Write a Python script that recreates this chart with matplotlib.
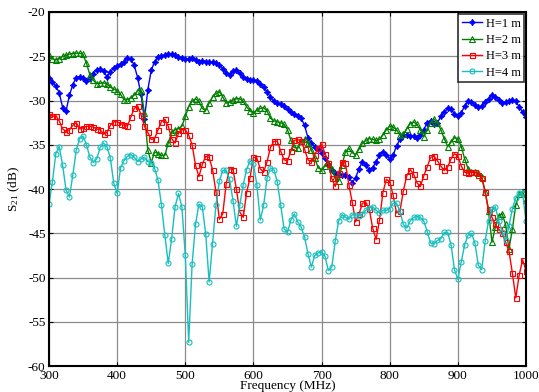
import numpy as np
import matplotlib
matplotlib.use("Agg")
import matplotlib.pyplot as plt

plt.rcParams['font.family'] = ['Liberation Serif', 'DejaVu Serif']
plt.rcParams['mathtext.fontset'] = 'custom'
plt.rcParams['mathtext.rm'] = 'Liberation Serif'
plt.rcParams['mathtext.it'] = 'Liberation Serif:italic'
plt.rcParams['axes.unicode_minus'] = False

# Frequency sweep, 300-1000 MHz in 5 MHz steps
freq_mhz = np.arange(300, 1001, 5)

s21_h1 = [
    -27.4, -27.9, -28.4, -29.1, -30.8, -31.2, -29.4, -28.2, -27.4, -27.3,
    -27.5, -27.8, -27.5, -27.0, -26.5, -26.4, -26.7, -27.3, -26.8, -26.3,
    -26.1, -25.9, -25.6, -25.2, -25.3, -26.0, -27.4, -29.3, -32.1, -28.8,
    -26.6, -25.6, -25.1, -25.0, -24.9, -24.7, -24.7, -24.9, -25.05, -25.2,
    -25.3, -25.3, -25.2, -25.4, -25.6, -25.5, -25.6, -25.6, -25.7, -25.8,
    -26.0, -26.4, -26.9, -27.1, -26.7, -26.6, -26.9, -27.3, -27.6, -27.7,
    -27.7, -27.8, -28.1, -28.5, -29.0, -29.6, -30.1, -30.3, -30.4, -30.6,
    -31.0, -31.3, -31.5, -31.7, -32.0, -32.8, -34.2, -34.8, -35.2, -35.5,
    -35.9, -36.5, -37.2, -37.8, -38.2, -38.4, -38.4, -38.4, -38.6, -39.3,
    -38.7, -37.7, -36.9, -37.3, -37.8, -37.6, -36.9, -36.2, -35.8, -36.1,
    -36.6, -36.2, -35.1, -34.4, -33.9, -33.9, -34.0, -34.0, -34.2, -33.9,
    -33.3, -32.5, -32.3, -32.6, -32.5, -31.8, -31.3, -30.9, -31.0, -31.5,
    -31.8, -31.4, -30.6, -30.1, -30.2, -30.5, -30.7, -30.6, -30.2, -29.8,
    -29.4, -29.6, -29.9, -30.3, -30.2, -30.1, -29.9, -30.1, -30.7, -31.3,
    -31.9,
]

s21_h2 = [
    -24.9, -25.3, -25.4, -25.3, -25.0, -24.9, -24.75, -24.7, -24.65, -24.65,
    -24.8, -25.8, -27.1, -27.7, -28.1, -28.05, -28.0, -28.1, -28.5, -28.7,
    -28.9, -29.3, -29.9, -29.9, -29.7, -29.4, -28.9, -28.8, -31.4, -35.6,
    -37.0, -35.8, -36.0, -36.2, -36.2, -34.8, -33.6, -33.3, -33.2, -32.9,
    -31.8, -30.7, -30.1, -29.8, -30.1, -30.9, -31.1, -30.3, -29.6, -29.2,
    -29.0, -29.6, -30.3, -30.2, -29.95, -29.8, -29.8, -30.1, -30.7, -31.2,
    -31.4, -31.1, -30.9, -30.8, -31.2, -32.0, -32.3, -32.4, -32.5, -32.7,
    -33.3, -34.5, -35.3, -35.4, -34.6, -34.4, -34.8, -35.6, -36.5, -37.6,
    -37.8, -37.4, -37.0, -37.7, -38.8, -39.1, -37.3, -35.8, -35.4, -35.9,
    -36.1, -35.5, -34.8, -34.5, -34.3, -34.4, -34.5, -34.4, -33.9, -33.3,
    -32.9, -33.0, -33.3, -33.9, -33.8, -33.2, -32.6, -32.4, -32.7, -33.3,
    -34.1, -33.3, -32.5, -32.1, -32.5, -33.3, -34.3, -35.2, -34.7, -34.2,
    -34.3, -35.2, -36.6, -37.7, -38.1, -38.1, -38.2, -38.6, -40.3, -42.5,
    -46.0, -44.3, -43.0, -42.8, -44.0, -46.8, -44.5, -41.8, -40.6, -40.3,
    -41.2,
]

s21_h3 = [
    -31.5, -31.8, -31.7, -32.3, -33.2, -33.5, -33.3, -32.8, -32.5, -33.2,
    -33.1, -32.9, -32.9, -33.0, -33.2, -33.3, -33.8, -33.6, -32.8, -32.4,
    -32.4, -32.6, -32.8, -32.9, -31.9, -30.9, -30.6, -31.6, -32.9, -33.6,
    -34.4, -34.3, -33.3, -32.4, -32.1, -32.9, -34.3, -34.8, -33.7, -33.3,
    -33.3, -33.9, -35.0, -37.3, -38.6, -37.2, -36.3, -36.4, -37.8, -40.3,
    -43.4, -42.8, -39.4, -37.7, -37.8, -40.0, -42.6, -43.2, -40.4, -38.7,
    -36.4, -36.5, -37.7, -38.1, -36.9, -35.3, -34.6, -34.6, -35.7, -36.7,
    -36.8, -35.7, -34.5, -34.4, -34.6, -35.5, -36.7, -36.9, -36.1, -35.4,
    -34.9, -36.0, -37.1, -38.8, -39.7, -38.2, -36.9, -37.1, -39.5, -41.5,
    -43.7, -42.8, -41.6, -41.5, -42.3, -44.4, -45.7, -43.5, -40.4, -38.9,
    -39.2, -40.7, -42.7, -42.5, -40.2, -38.5, -37.8, -38.3, -39.3, -39.7,
    -38.5, -37.5, -36.4, -36.3, -36.8, -37.4, -37.9, -37.5, -36.6, -36.0,
    -36.3, -37.4, -38.1, -38.2, -38.1, -38.1, -38.4, -38.7, -40.3, -42.3,
    -43.2, -44.0, -44.5, -45.0, -46.0, -47.0, -49.5, -52.3, -49.7, -48.0,
    -49.2,
]

s21_h4 = [
    -41.7, -39.2, -36.0, -35.2, -37.3, -40.1, -40.9, -38.4, -35.6, -34.3,
    -34.0, -35.0, -36.4, -37.0, -36.6, -35.3, -34.8, -35.2, -36.5, -39.3,
    -40.5, -37.6, -36.8, -36.3, -36.1, -36.4, -36.9, -36.6, -36.4, -36.9,
    -37.0, -37.7, -39.0, -41.8, -45.2, -48.4, -45.6, -42.0, -40.5, -42.0,
    -47.5, -57.3, -48.5, -44.0, -41.7, -42.0, -45.1, -50.5, -46.2, -41.8,
    -39.1, -37.9, -37.9, -38.9, -41.3, -44.2, -41.8, -39.5, -37.8, -36.8,
    -37.2, -39.5, -43.5, -41.8, -38.8, -37.6, -37.8, -39.2, -41.8, -44.5,
    -44.9, -43.5, -42.8, -43.7, -44.3, -45.4, -47.3, -48.8, -47.5, -47.2,
    -47.1, -47.6, -49.2, -48.8, -45.9, -43.6, -42.9, -43.2, -43.4, -42.9,
    -42.9, -43.0, -42.8, -42.4, -42.1, -42.0, -42.4, -42.7, -42.4, -42.4,
    -42.2, -41.6, -41.6, -42.5, -44.0, -44.4, -43.6, -43.2, -43.1, -43.2,
    -43.6, -44.8, -46.1, -46.2, -45.8, -45.6, -44.9, -44.9, -46.3, -49.1,
    -50.2, -48.2, -46.3, -45.2, -45.0, -46.1, -48.6, -49.1, -45.9, -43.6,
    -42.3, -42.0, -43.6, -44.8, -45.8, -44.2, -42.2, -41.0, -40.5, -40.5,
    -43.6,
]

labels = ["H=1 m", "H=2 m", "H=3 m", "H=4 m"]
x_ticks = [300, 400, 500, 600, 700, 800, 900, 1000]
y_ticks = [-60, -55, -50, -45, -40, -35, -30, -25, -20]

fig = plt.figure(figsize=(5.39, 3.92), dpi=100)
ax = fig.add_axes([0.0909, 0.066, 0.8850, 0.9034])

styles = [
    dict(color="#0000ff", marker=(4, 1, 0), ms=4.5, mfc="#0000ff", mec="#0000ff"),
    dict(color="#008000", marker="^", ms=4.0, mfc="none", mec="#008000"),
    dict(color="#ff0000", marker="s", ms=3.6, mfc="none", mec="#ff0000"),
    dict(color="#17bfbf", marker="o", ms=3.6, mfc="none", mec="#17bfbf"),
]
for series, lab, st in zip([s21_h1, s21_h2, s21_h3, s21_h4], labels, styles):
    ax.plot(freq_mhz, series, lw=1.0, mew=0.8, label=lab, **st)

ax.set_xlim(300, 1000)
ax.set_ylim(-60, -20)
ax.set_xticks(x_ticks)
ax.set_yticks(y_ticks)
ax.grid(True, color="#8c8c8c", lw=0.9)
ax.set_axisbelow(True)
ax.tick_params(direction="in", top=True, right=True, labelsize=9.5,
               length=3, width=0.8, pad=2.5)
for sp in ax.spines.values():
    sp.set_linewidth(1.5)

ax.set_xlabel("Frequency (MHz)", fontsize=9.5, labelpad=-1)
ax.set_ylabel(r"S$_{21}$ (dB)", fontsize=9.5, labelpad=4)

leg = ax.legend(loc="upper right", fontsize=9, frameon=True, fancybox=False,
                edgecolor="black", borderpad=0.3, labelspacing=0.35,
                handlelength=1.6, handletextpad=0.3, borderaxespad=0.15)
leg.get_frame().set_linewidth(1.2)

fig.savefig("out.png", dpi=100)
